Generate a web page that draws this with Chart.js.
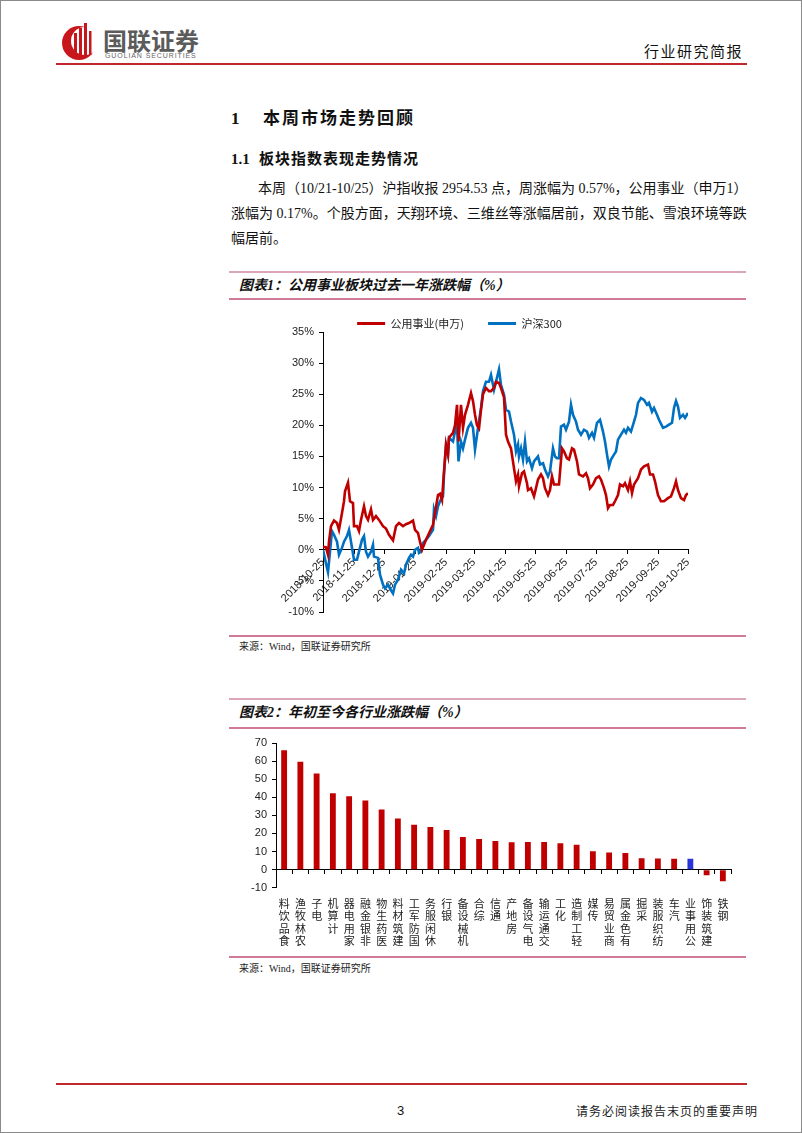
<!DOCTYPE html>
<html><head><meta charset="utf-8">
<script src="https://cdn.jsdelivr.net/npm/chart.js@4.4.1/dist/chart.umd.min.js"></script>
<style>
html,body{margin:0;padding:0;background:#fff;}
#page{position:relative;width:802px;height:1133px;box-sizing:border-box;border:1px solid #8a8a8a;overflow:hidden;font-family:"Liberation Serif","Noto Sans CJK SC",serif;color:#111;}
.t{position:absolute;white-space:nowrap;line-height:20px;}
.hl{position:absolute;height:2px;}
canvas{position:absolute;}
</style></head>
<body><div id="page">
<svg style="position:absolute;left:58px;top:18px" width="44" height="44" viewBox="0 0 44 44">
  <circle cx="20" cy="24" r="17" fill="#c8161d"/>
  <circle cx="26" cy="22" r="14" fill="#fff"/>
  <rect x="15" y="14" width="3" height="26" fill="#c8161d"/>
  <rect x="20" y="9" width="3" height="30" fill="#c8161d"/>
  <rect x="25" y="4" width="3" height="34" fill="#c8161d"/>
  <rect x="30" y="12" width="2.5" height="24" fill="#c8161d"/>
</svg>
<div class="t" style="left:102px;top:29px;font-family:'Noto Sans CJK SC';font-weight:bold;font-size:24px;color:#5b5b5b;">国联证券</div>
<div class="t" style="left:104px;top:45px;font-family:'Liberation Sans';font-size:7px;color:#666;letter-spacing:0.9px;">GUOLIAN SECURITIES</div>
<div class="t" style="left:643px;top:40px;font-family:'Noto Sans CJK SC';font-size:15px;letter-spacing:1.5px;color:#111;">行业研究简报</div>
<div class="hl" style="left:55px;top:62px;width:691px;background:#c0282d;"></div>

<div class="t" style="left:230px;top:108px;font-size:17px;font-weight:bold;">1</div>
<div class="t" style="left:262px;top:108px;font-size:17px;font-weight:bold;letter-spacing:2px;">本周市场走势回顾</div>
<div class="t" style="left:230px;top:148px;font-size:15px;font-weight:bold;">1.1</div>
<div class="t" style="left:258px;top:148px;font-size:15px;font-weight:bold;letter-spacing:1px;">板块指数表现走势情况</div>
<div class="t" style="left:257px;top:178px;width:487px;font-size:14px;text-align:justify;text-align-last:justify;">本周（10/21-10/25）沪指收报 2954.53 点，周涨幅为 0.57%，公用事业（申万1）</div>
<div class="t" style="left:230px;top:203px;width:514px;font-size:14px;text-align:justify;text-align-last:justify;">涨幅为 0.17%。个股方面，天翔环境、三维丝等涨幅居前，双良节能、雪浪环境等跌</div>
<div class="t" style="left:230px;top:228px;font-size:14px;">幅居前。</div>

<div class="hl" style="left:228px;top:270px;width:517px;background:#dba6b6;"></div>
<div class="t" style="left:238px;top:275px;font-size:14px;font-weight:bold;font-style:italic;">图表1：公用事业板块过去一年涨跌幅（%）</div>
<div class="hl" style="left:228px;top:297px;width:517px;background:#d07a96;"></div>
<canvas id="c1" width="524" height="340" style="left:230px;top:290px;"></canvas>
<div class="hl" style="left:228px;top:634px;width:517px;background:#d07a96;"></div>
<div class="t" style="left:238px;top:636px;font-size:10px;color:#222;">来源：Wind，国联证券研究所</div>

<div class="hl" style="left:228px;top:697px;width:517px;background:#dba6b6;"></div>
<div class="t" style="left:238px;top:702px;font-size:14px;font-weight:bold;font-style:italic;">图表2：年初至今各行业涨跌幅（%）</div>
<div class="hl" style="left:228px;top:726px;width:517px;background:#d07a96;"></div>
<canvas id="c2" width="515" height="224" style="left:230px;top:728px;"></canvas>
<div class="hl" style="left:228px;top:955px;width:517px;background:#d07a96;"></div>
<div class="t" style="left:238px;top:958px;font-size:10px;color:#222;">来源：Wind，国联证券研究所</div>

<div class="hl" style="left:55px;top:1082px;width:691px;background:#c0282d;"></div>
<div class="t" style="left:396px;top:1100px;font-family:'Liberation Sans';font-size:13px;">3</div>
<div class="t" style="left:575px;top:1100px;font-family:'Noto Sans CJK SC';font-size:12px;letter-spacing:1px;color:#222;">请务必阅读报告末页的重要声明</div>
</div>
<script>
// ---- Chart 1 data: days since 2018-10-25, cumulative change (%) ----
const monthTickDays = [0,31,61,92,123,151,182,212,243,273,304,335,365];
const monthTickLabels = ['2018-10-25','2018-11-25','2018-12-25','2019-01-25','2019-02-25','2019-03-25','2019-04-25','2019-05-25','2019-06-25','2019-07-25','2019-08-25','2019-09-25','2019-10-25'];

const utilDays = [0,3,5,6,8,11,14,16,19,21,22,25,27,30,31,34,36,38,41,43,45,48,50,53,56,60,63,66,70,73,76,80,83,86,90,92,95,97,99,103,110,115,117,119,121,123,125,126,130,132,134,135.5,138,140,142,145,148,150,152,154,156,158,160,163,166,168,171,173,176,178,181,183,185,188,191,193,195,196,199,201,204,205,208,211,213,215,218,220,222,225,227,229,231,233,236,239,241,244,246,249,251,254,256,260,263,265,267,270,273,276,278,281,283,285,287,290,292,295,297,300,302,305,307,309,311,315,318,321,325,327,330,332,335,338,341,345,348,351,353,355,358,361,363,365];
const utilValues = [0.5,0.4,-0.8,1.3,3.8,4.7,4.3,3.2,5.9,7.8,9.4,10.8,7.8,7.5,3.8,3.8,3.0,4.8,7.0,5.4,4.8,6.5,4.8,5.4,4.8,3.8,3.4,2.4,1.5,3.8,4.3,3.8,4.1,4.3,4.7,3.2,2.7,1.3,0,1.6,4.0,8.8,9.0,8.0,12.6,16.9,15.3,18.0,18.8,20.0,23.3,17.4,23.3,19.6,21.7,23.3,25.2,23.9,21.7,20.0,19.5,22.5,25.0,26.0,25.5,25.5,26.0,27.0,26.8,26.0,24.5,18.5,17.4,16.3,13.1,11.0,12.1,10.2,12.3,12.6,10.7,9.6,9.9,8.6,9.9,11.3,12.1,11.5,9.9,8.8,9.6,11.8,10.5,10.5,10.5,16.3,15.8,14.7,14.5,16.3,16.1,14.2,12.1,11.8,12.3,11.5,9.9,10.5,11.5,11.8,11.3,9.9,8.8,6.7,7.2,7.2,7.8,8.8,10.5,10.2,10.7,9.6,11.0,9.1,10.5,11.5,12.9,13.4,13.7,12.1,12.1,11.0,8.8,7.8,7.8,8.3,8.6,9.9,11.0,9.6,8.3,8.0,8.8,9.1];

const hs300Days = [0,3,5,7,9,11,14,16,19,21,24,26,28,31,34,36,39,41,43,45,48,50,51,55,57,60,62,65,68,70,72,75,78,81,83,86,88,90,92,95,96,98,100,103,106,110,111,113,115,117,118,120,121,123,125,126,130,132,134,135.5,138,140,142,145,148,150,152,155,158,160,163,166,168,171,173,176,178,181,183,186,188,191,193,195,196,198,200,202,204,206,209,211,215,217,220,222,225,227,230,232,234,236,238,241,243,246,248,250,253,255,258,261,264,266,269,271,274,277,280,282,284,286,288,291,293,295,298,301,303,305,308,311,313,315,318,321,324,326,329,331,334,336,340,343,346,349,351,353,355,357,360,362,365];
const hs300Values = [0,-2.2,-3.6,-0.3,3.0,2.4,1.3,-0.8,0.3,1.3,2.2,3.2,1.3,-1.6,-1.6,-0.3,1.6,2.2,-0.3,-1.1,-0.3,0.8,-1.1,-1.3,-4.0,-5.6,-6.2,-5.6,-6.5,-7.0,-5.6,-4.8,-3.2,-3.8,-2.4,-1.3,-0.8,-1.1,0,0.3,-0.5,-0.3,1.1,1.6,2.2,3.2,6.5,5.4,7.0,7.8,8.1,8.6,12.1,16.7,15.3,18.0,17.4,19.0,20.0,14.2,17.4,16.3,17.7,19.6,20.4,19.6,16.1,19.6,22.8,25.5,27.0,27.0,28.1,25.7,27.0,29.0,26.5,24.9,22.5,22.2,20.6,18.5,15.8,16.9,15.0,16.3,14.5,17.4,14.2,14.7,13.1,14.2,15.0,13.7,13.9,12.9,11.8,12.6,16.3,15.0,14.7,14.7,19.8,20.1,19.3,20.6,23.3,21.7,20.6,19.3,18.5,19.3,19.0,18.0,18.8,18.0,20.4,20.9,19.0,17.4,15.3,13.4,14.5,15.3,15.8,17.7,18.5,19.3,18.8,19.6,19.0,20.6,21.7,23.6,24.4,24.1,23.3,23.6,22.2,22.8,21.7,20.9,19.6,19.8,20.1,20.4,22.8,23.9,23.0,21.2,21.7,21.2,22.0];

// ---- Chart 2 data ----
const industryNames = ['食品饮料','农林牧渔','电子','计算机','家用电器','非银金融','医药生物','建筑材料','国防军工','休闲服务','银行','机械设备','综合','通信','房地产','电气设备','交通运输','化工','轻工制造','传媒','商业贸易','有色金属','采掘','纺织服装','汽车','公用事业','建筑装饰','钢铁'];
const industryReturns = [66.0,59.7,53.2,42.2,40.6,38.2,33.2,28.2,24.8,23.6,21.9,18.1,16.9,15.8,15.2,15.3,15.3,14.6,13.7,10.2,9.5,9.2,6.3,6.2,6.0,6.0,-3.1,-6.4];
const highlightIndustry = '公用事业';

const RED = '#C00000', BLUE = '#0070C0', BAR_BLUE = '#2A35D8';
const tickFont = {family:'"Liberation Sans","Noto Sans CJK SC"', size:11};

const legendTrim = {id:'legendTrim', beforeLayout(chart){
  const lg = chart.legend;
  if (lg && !lg._trimmed){ const f = lg.fit; lg.fit = function(){ f.call(this); this.height -= 7; }; lg._trimmed = true; }
}};

new Chart(document.getElementById('c1'), {
  type:'line',
  data:{datasets:[
    {label:'公用事业(申万)', data: utilDays.map((d,i)=>({x:d,y:utilValues[i]})), borderColor:RED, backgroundColor:RED, borderWidth:2.6, pointRadius:0, tension:0},
    {label:'沪深300', data: hs300Days.map((d,i)=>({x:d,y:hs300Values[i]})), borderColor:BLUE, backgroundColor:BLUE, borderWidth:2.6, pointRadius:0, tension:0}
  ]},
  options:{
    animation:false, responsive:false, devicePixelRatio:1,
    layout:{padding:{top:3,left:0,right:67,bottom:19}},
    plugins:{
      legend:{display:true, position:'top', align:'center',
        labels:{boxWidth:28, boxHeight:3, padding:24, color:'#222', font:{family:'"Noto Sans CJK SC"', size:11},
          generateLabels:(chart)=>Chart.defaults.plugins.legend.labels.generateLabels(chart).map(it=>Object.assign(it,{lineWidth:0}))}},
      tooltip:{enabled:false}
    },
    scales:{
      x:{type:'linear', position:{y:0}, min:0, max:365,
        afterBuildTicks:(s)=>{ s.ticks = monthTickDays.map(v=>({value:v})); },
        ticks:{autoSkip:false, minRotation:45, maxRotation:45, padding:2, color:'#222', font:tickFont,
          callback:(v)=>monthTickLabels[monthTickDays.indexOf(v)]},
        grid:{drawOnChartArea:false, drawTicks:true, tickLength:4, color:'#000'},
        border:{display:true, color:'#000', width:1}},
      y:{min:-10, max:35, afterFit:(s)=>{ s.width = 92; },
        ticks:{stepSize:5, padding:5, color:'#222', font:tickFont, callback:(v)=>v+'%'},
        grid:{drawOnChartArea:false, drawTicks:true, tickLength:4, color:'#000'},
        border:{display:true, color:'#000', width:1}}
    }
  },
  plugins:[legendTrim]
});

new Chart(document.getElementById('c2'), {
  type:'bar',
  data:{labels: industryNames, datasets:[{data: industryReturns,
    backgroundColor: industryNames.map(n=> n===highlightIndustry ? BAR_BLUE : RED),
    categoryPercentage:1, barPercentage:0.36}]},
  options:{
    animation:false, responsive:false, devicePixelRatio:1,
    layout:{padding:{top:14,left:0,right:15,bottom:4}},
    plugins:{legend:{display:false}, tooltip:{enabled:false}},
    scales:{
      x:{position:{y:0}, offset:true, ticks:{display:false},
        grid:{offset:true, drawOnChartArea:false, drawTicks:true, tickLength:4, color:'#000'},
        border:{display:true, color:'#000', width:1}},
      x2:{type:'category', position:'bottom', offset:true,
        grid:{display:false}, border:{display:false},
        ticks:{autoSkip:false, minRotation:0, maxRotation:0, padding:2, color:'#222',
          font:{family:'"Noto Sans CJK SC"', size:11, lineHeight:1.12},
          callback:(v,i)=>industryNames[i].split('').reverse()}},
      y:{min:-10, max:70, afterFit:(s)=>{ s.width = 45; },
        ticks:{stepSize:10, padding:5, color:'#222', font:tickFont},
        grid:{drawOnChartArea:false, drawTicks:true, tickLength:4, color:'#000'},
        border:{display:true, color:'#000', width:1}}
    }
  }
});
</script>
</body></html>
